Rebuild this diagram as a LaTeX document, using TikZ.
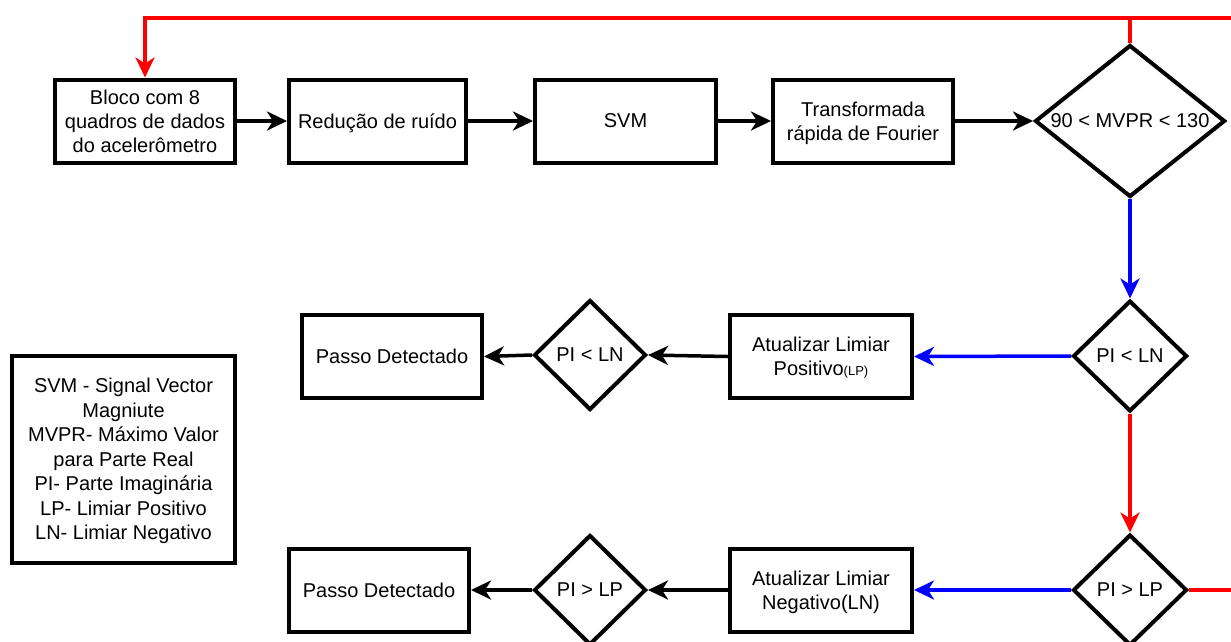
\documentclass[tikz,border=0pt]{standalone}
\usepackage{fontspec}
\setmainfont{Liberation Sans}
\usetikzlibrary{arrows.meta, shapes.geometric}
\definecolor{loopred}{RGB}{255,0,0}
\definecolor{flowblue}{RGB}{0,0,255}

\begin{document}
\begin{tikzpicture}[x=1pt, y=-1pt,
    every node/.style={font=\fontsize{20}{24}\selectfont, align=center, text depth=0pt},
    bloco/.style={draw, line width=4pt, rectangle, minimum width=180pt, minimum height=83pt, inner sep=2pt},
    teste/.style={draw, line width=4pt, diamond, minimum width=114pt, minimum height=111pt, inner sep=0pt},
    seta/.style={-{Stealth[length=20pt, width=19pt, inset=6pt]}, line width=3.5pt}]
    \useasboundingbox (0,0) rectangle (1231,641);

    % Pre-processamento
    \node[bloco] (bloco) at (145,121) {Bloco com 8\\quadros de dados\\do acelerômetro};
    \node[bloco, minimum width=177pt] (ruido) at (377.5,121) {Redução de ruído};
    \node[bloco, minimum width=181pt] (svm) at (625.5,121) {SVM};
    \node[bloco] (fft) at (863,121) {Transformada\\rápida de Fourier};
    \node[teste, minimum width=190pt, minimum height=152pt, shape aspect=1.25] (mvpr) at (1130,121) {90 < MVPR < 130};

    % Testes da parte imaginaria
    \node[teste] (pln) at (1130,356) {PI < LN};
    \node[teste] (plp) at (1130,590) {PI > LP};
    \node[bloco, minimum width=182pt] (atpos) at (821,356.5) {Atualizar Limiar\\Positivo{\fontsize{13}{15}\selectfont(LP)}};
    \node[bloco, minimum width=182pt] (atneg) at (821,590) {Atualizar Limiar\\Negativo(LN)};
    \node[teste, minimum width=112pt, minimum height=110pt] (cln) at (590,355) {PI < LN};
    \node[teste, minimum width=112pt, minimum height=110pt] (clp) at (590,590) {PI > LP};
    \node[bloco] (passo1) at (392,356.5) {Passo Detectado};
    \node[bloco] (passo2) at (379,590) {Passo Detectado};

    % Legenda
    \node[bloco, minimum width=223pt, minimum height=207pt, font=\fontsize{20}{24.5}\selectfont] (legenda) at (123.5,459)
        {SVM - Signal Vector\\Magniute\\MVPR- Máximo Valor\\para Parte Real\\PI- Parte Imaginária\\LP- Limiar Positivo\\LN- Limiar Negativo};

    \coordinate (topo) at (1231,18);
    \coordinate (saida) at (1231,590);

    % Fluxo principal
    \draw[seta] (bloco) -- (ruido);
    \draw[seta] (ruido) -- (svm);
    \draw[seta] (svm) -- (fft);
    \draw[seta] (fft) -- (mvpr.west);
    \draw[seta, flowblue] (mvpr.south) -- (pln.north);
    \draw[seta, flowblue] (pln.west) -- (atpos.east);
    \draw[seta] (atpos.west) -- (cln.east);
    \draw[seta] (cln.west) -- (passo1.east);
    \draw[seta, loopred] (pln.south) -- (plp.north);
    \draw[seta, flowblue] (plp.west) -- (atneg.east);
    \draw[seta] (atneg.west) -- (clp.east);
    \draw[seta] (clp.west) -- (passo2.east);

    % Retorno
    \draw[loopred, line width=3.5pt] (plp.east) -- (saida);
    \draw[loopred, line width=3.5pt] (mvpr.north) -- (mvpr.north |- topo);
    \draw[seta, loopred] (topo) -| (bloco.north);
\end{tikzpicture}
\end{document}
